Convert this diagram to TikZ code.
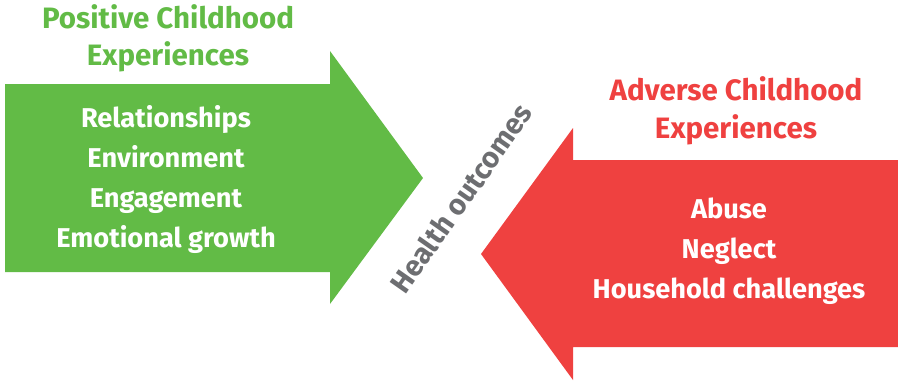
\documentclass[tikz,border=0pt]{standalone}
\usepackage{fontspec}
\setmainfont{Fira Sans}
\definecolor{pgreen}{HTML}{62BB46}
\definecolor{ared}{HTML}{EF4140}
\definecolor{hgray}{HTML}{6D6E71}
\begin{document}
\begin{tikzpicture}[x=1pt,y=-1pt,
  title/.style={anchor=base,inner sep=0pt,font=\fontsize{29.5}{32}\selectfont\bfseries},
  item/.style={anchor=base,inner sep=0pt,text=white,font=\fontsize{27.2}{30}\selectfont\bfseries}]
\useasboundingbox (0,0) rectangle (898,381);
% green arrow
\fill[pgreen] (5,84) -- (330,84) -- (330,51) -- (423,178) -- (330,304) -- (330,272) -- (5,272) -- cycle;
% red arrow
\fill[ared] (898,160) -- (573,160) -- (573,128) -- (481,254) -- (573,380) -- (573,347) -- (898,347) -- cycle;
% green texts
\node[title,text=pgreen] (pt1) at (168,28) {Positive Childhood};
\node[title,text=pgreen] (pt2) at (168,65) {Experiences};
\node[item] (p1) at (166,127) {Relationships};
\node[item] (p2) at (166,167) {Environment};
\node[item] (p3) at (166,207) {Engagement};
\node[item] (p4) at (166,247) {Emotional growth};
% red texts
\node[title,text=ared] (at1) at (736,100) {Adverse Childhood};
\node[title,text=ared] (at2) at (736,138) {Experiences};
\node[item] (a1) at (729,218) {Abuse};
\node[item] (a2) at (729,258) {Neglect};
\node[item] (a3) at (729,298) {Household challenges};
% health outcomes
\node[inner sep=0pt,text=hgray,rotate=55,font=\fontsize{29}{30}\selectfont\bfseries] (ho) at (461,198) {Health outcomes};
\end{tikzpicture}
\end{document}
